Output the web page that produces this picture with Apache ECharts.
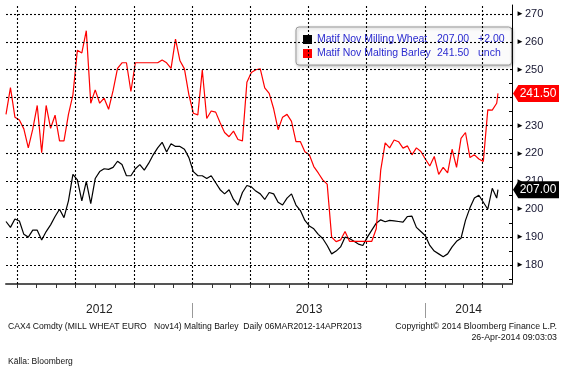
<!DOCTYPE html>
<html><head><meta charset="utf-8">
<script src="https://cdn.jsdelivr.net/npm/echarts@6/dist/echarts.min.js"></script>
<style>html,body{margin:0;padding:0;background:#fff}#c{width:565px;height:367px}</style>
</head><body><div id="c"></div>
<script>
const dates = [
'2012-03-14','2012-03-21','2012-03-28','2012-04-04','2012-04-11','2012-04-18','2012-04-25','2012-05-02','2012-05-09','2012-05-16',
'2012-05-23','2012-05-30','2012-06-06','2012-06-13','2012-06-20','2012-06-27','2012-07-04','2012-07-11','2012-07-18','2012-07-25',
'2012-08-01','2012-08-08','2012-08-15','2012-08-22','2012-08-29','2012-09-05','2012-09-12','2012-09-19','2012-09-26','2012-10-03',
'2012-10-10','2012-10-17','2012-10-24','2012-10-31','2012-11-07','2012-11-14','2012-11-21','2012-11-28','2012-12-05','2012-12-12',
'2012-12-19','2012-12-26','2013-01-02','2013-01-09','2013-01-16','2013-01-23','2013-01-30','2013-02-06','2013-02-13','2013-02-20',
'2013-02-27','2013-03-06','2013-03-13','2013-03-20','2013-03-27','2013-04-03','2013-04-10','2013-04-17','2013-04-24','2013-05-01',
'2013-05-08','2013-05-15','2013-05-22','2013-05-29','2013-06-05','2013-06-12','2013-06-19','2013-06-26','2013-07-03','2013-07-10',
'2013-07-17','2013-07-24','2013-07-31','2013-08-07','2013-08-14','2013-08-21','2013-08-28','2013-09-04','2013-09-11','2013-09-18',
'2013-09-25','2013-10-02','2013-10-09','2013-10-16','2013-10-23','2013-10-30','2013-11-06','2013-11-13','2013-11-20','2013-11-27',
'2013-12-04','2013-12-11','2013-12-18','2013-12-25','2014-01-01','2014-01-08','2014-01-15','2014-01-22','2014-01-29','2014-02-05',
'2014-02-12','2014-02-19','2014-02-26','2014-03-05','2014-03-12','2014-03-19','2014-03-26','2014-04-02','2014-04-09','2014-04-16',
'2014-04-23','2014-04-25'];

const wheat = [
195.6,193.5,196.5,195.8,191,190,192.5,192.5,189,192,
194.4,197.4,200,197,203,212.5,210.5,203,210,202,
211,213.5,214.5,214.3,215,217.2,216,212,212,214.5,
216,214,216.5,219.5,222,224,220.5,223.5,222.5,222.5,
221.5,218.5,213.5,212,212,211,212,209.5,207,205.5,
207,203.5,201.5,206,208.5,208,206.5,205.5,203.5,206,
205.5,202.5,201.5,204,205.5,201.5,199.5,196,194,193,
191,189.5,187,184,185,186.5,190,189.5,188.5,187.5,
187,190,192.5,195,196.2,195.5,196,195.8,195.6,195.4,
197.4,197.5,193.5,192,190.5,187,185,184,183,184,
186.5,188.5,189.6,196,200.5,204,205,202.5,200,207.5,204,
207];

const barley = [
234,243.6,233,232,228.8,222,228.7,237.2,220.3,237.2,
229,233.7,224.5,224.5,234,241,257,256,264,238,
242.8,238,239.8,235.8,242.5,250.5,252.5,252.5,242.2,252.5,
252.5,252.5,252.5,252.5,252.5,253.5,252.5,250.5,261,253.2,
250.3,241,234.4,233.8,249.9,232.5,235.2,234.8,231,227.5,
226,228,225,224.5,245.5,249,250,250.3,243.5,241.5,
236,228.5,233,234,231.5,224.2,224.2,220.6,219.5,215.3,
213,210.5,209,190,188.4,189,192,188.5,188.5,188.5,
188.5,188.5,188.5,193,214,223.8,222,224.8,224.2,221.9,
222.7,219.5,222,220.7,218,215.5,218.9,212.5,215,213,
221.5,215,225.4,227.5,218.5,219.5,218,217.1,235.6,235.5,238,
241.5];

const seriesNames = ['Matif Nov Milling Wheat', 'Matif Nov Malting Barley'];
const seriesChange = ['+2.00', 'unch'];
const yTicks = [180,190,200,210,220,230,240,250,260,270];
const yMinorTicks = [175,185,195,205,215,225,235,245,255,265];
const yearLabels = [2012, 2013, 2014];
const xStart = '2012-03-14', xEnd = '2014-05-17';
const yMin = 173.2, yMax = 273.2;

function ts(s){ const p = s.split('-').map(Number); return new Date(p[0], p[1]-1, p[2]).getTime(); }
const tMin = ts(xStart), tMax = ts(xEnd);

const quarterTicks = [], monthTicks = [], yearTicks = [];
for (let y = 2012; y <= 2014; y++) {
  for (let m = 0; m < 12; m++) {
    const t = new Date(y, m, 1).getTime();
    if (t < tMin || t > tMax) continue;
    monthTicks.push(t);
    if (m % 3 === 0) quarterTicks.push(t);
    if (m === 0) yearTicks.push(t);
  }
}
const yearCenters = yearLabels.map(y => {
  const a = Math.max(new Date(y,0,1).getTime(), tMin);
  const b = Math.min(new Date(y+1,0,1).getTime(), tMax);
  return (a + b) / 2;
});

const wheatData = dates.map((d,i) => [ts(d), wheat[i]]);
const barleyData = dates.map((d,i) => [ts(d), barley[i]]);
const lastW = wheat[wheat.length-1], lastB = barley[barley.length-1];
const lastVals = [lastW, lastB];

const FONT = '"Liberation Sans", Arial, sans-serif';

function tag(color, val) {
  return {
    symbol: 'path://M0,6 L6,0 L52,0 L52,12 L6,12 Z',
    symbolSize: [46, 17],
    symbolKeepAspect: false,
    symbolOffset: [24, 0],
    itemStyle: { color: color },
    label: { show: true, position: 'inside', color: '#fff', fontSize: 12, fontFamily: FONT, offset: [2, 0],
             formatter: p => Number(p.value).toFixed(2) },
    silent: true,
    data: [{ coord: [tMax, val], value: val }]
  };
}

const xBase = { type: 'value', min: tMin, max: tMax, position: 'bottom', scale: true };
const gridLines = yTicks.map(v => ({ yAxis: v })).concat(quarterTicks.map(t => ({ xAxis: t })));

const chart = echarts.init(document.getElementById('c'), null, { renderer: 'canvas' });
chart.setOption({
  animation: false,
  backgroundColor: '#fff',
  grid: { left: 6, right: 53, top: 5, bottom: 83, containLabel: false },
  legend: {
    left: 296, top: 27, orient: 'vertical',
    padding: [7, 7, 6, 7], itemGap: 3, itemWidth: 9, itemHeight: 9,
    icon: 'rect', selectedMode: false,
    backgroundColor: '#fbfbfb', borderColor: '#9a9a9a', borderWidth: 1, borderRadius: 3,
    shadowColor: 'rgba(0,0,0,0.25)', shadowBlur: 3, shadowOffsetX: 1, shadowOffsetY: 1,
    data: seriesNames,
    formatter: name => {
      const i = seriesNames.indexOf(name);
      return '{n|' + name + '}{v|' + lastVals[i].toFixed(2) + '}{c|' + seriesChange[i] + '}';
    },
    textStyle: {
      fontFamily: FONT, fontSize: 10.5, color: '#2b2bd0', lineHeight: 11,
      rich: {
        n: { width: 120, fontFamily: FONT, fontSize: 10.5, color: '#2b2bd0', lineHeight: 11 },
        v: { width: 41, fontFamily: FONT, fontSize: 10.5, color: '#2b2bd0', lineHeight: 11 },
        c: { width: 24, fontFamily: FONT, fontSize: 10.5, color: '#2b2bd0', lineHeight: 11 }
      }
    }
  },
  xAxis: [
    Object.assign({}, xBase, {
      axisLine: { show: false },
      axisTick: { show: false },
      splitLine: { show: false },
      axisLabel: { show: true, customValues: yearCenters, margin: 20, color: '#222', fontSize: 12, fontFamily: FONT,
                   formatter: v => String(new Date(v).getFullYear()) }
    }),
    Object.assign({}, xBase, {
      axisLine: { show: true, lineStyle: { color: '#555', width: 2 } },
      axisTick: { show: true, customValues: monthTicks, length: 4, lineStyle: { color: '#333', width: 1 } },
      splitLine: { show: false }, axisLabel: { show: false }
    }),
    Object.assign({}, xBase, {
      offset: 19,
      axisLine: { show: false },
      axisTick: { show: true, customValues: yearTicks, length: 15, lineStyle: { color: '#999', width: 1 } },
      splitLine: { show: false }, axisLabel: { show: false }
    })
  ],
  yAxis: [
    {
      type: 'value', position: 'right', min: yMin, max: yMax,
      axisLine: { show: true, lineStyle: { color: '#000', width: 1 } },
      axisTick: { show: false },
      splitLine: { show: false },
      axisLabel: { show: true, customValues: yTicks, margin: 4,
                   formatter: v => '{t|►}{v|' + v + '}',
                   rich: { t: { fontSize: 8, color: '#000', padding: [0, 1, 0, 0] },
                           v: { fontSize: 11, color: '#151530', fontFamily: FONT } } }
    },
    {
      type: 'value', position: 'right', min: yMin, max: yMax,
      axisLine: { show: false },
      axisTick: { show: true, inside: true, length: 3, customValues: yMinorTicks, lineStyle: { color: '#000' } },
      splitLine: { show: false }, axisLabel: { show: false }
    }
  ],
  series: [
    {
      name: 'grid', type: 'line', data: [], z: 1, silent: true,
      markLine: {
        silent: true, symbol: ['none', 'none'], label: { show: false },
        lineStyle: { color: '#000', type: [2, 2], width: 1.1, opacity: 1 },
        emphasis: { disabled: true },
        data: gridLines
      }
    },
    {
      name: seriesNames[0], type: 'line', data: wheatData, showSymbol: false, symbol: 'none',
      lineStyle: { color: '#000', width: 1.2 }, itemStyle: { color: '#000' },
      xAxisIndex: 0, yAxisIndex: 0, z: 3,
      markPoint: tag('#000', lastW)
    },
    {
      name: seriesNames[1], type: 'line', data: barleyData, showSymbol: false, symbol: 'none',
      lineStyle: { color: '#ff0000', width: 1.2 }, itemStyle: { color: '#ff0000' },
      xAxisIndex: 0, yAxisIndex: 0, z: 4,
      markPoint: tag('#ff0000', lastB)
    }
  ],
  graphic: [
    { type: 'text', x: 8, y: 327, style: { text: 'CAX4 Comdty (MILL WHEAT EURO   Nov14) Malting Barley  Daily 06MAR2012-14APR2013',
      font: '8.6px ' + FONT, fill: '#111', align: 'left', verticalAlign: 'middle' } },
    { type: 'text', x: 557, y: 327, style: { text: 'Copyright© 2014 Bloomberg Finance L.P.',
      font: '8.8px ' + FONT, fill: '#111', align: 'right', verticalAlign: 'middle' } },
    { type: 'text', x: 557, y: 338, style: { text: '26-Apr-2014 09:03:03',
      font: '8.8px ' + FONT, fill: '#111', align: 'right', verticalAlign: 'middle' } },
    { type: 'text', x: 8, y: 362, style: { text: 'Källa: Bloomberg',
      font: '8.5px ' + FONT, fill: '#111', align: 'left', verticalAlign: 'middle' } }
  ]
});
</script>
</body></html>
